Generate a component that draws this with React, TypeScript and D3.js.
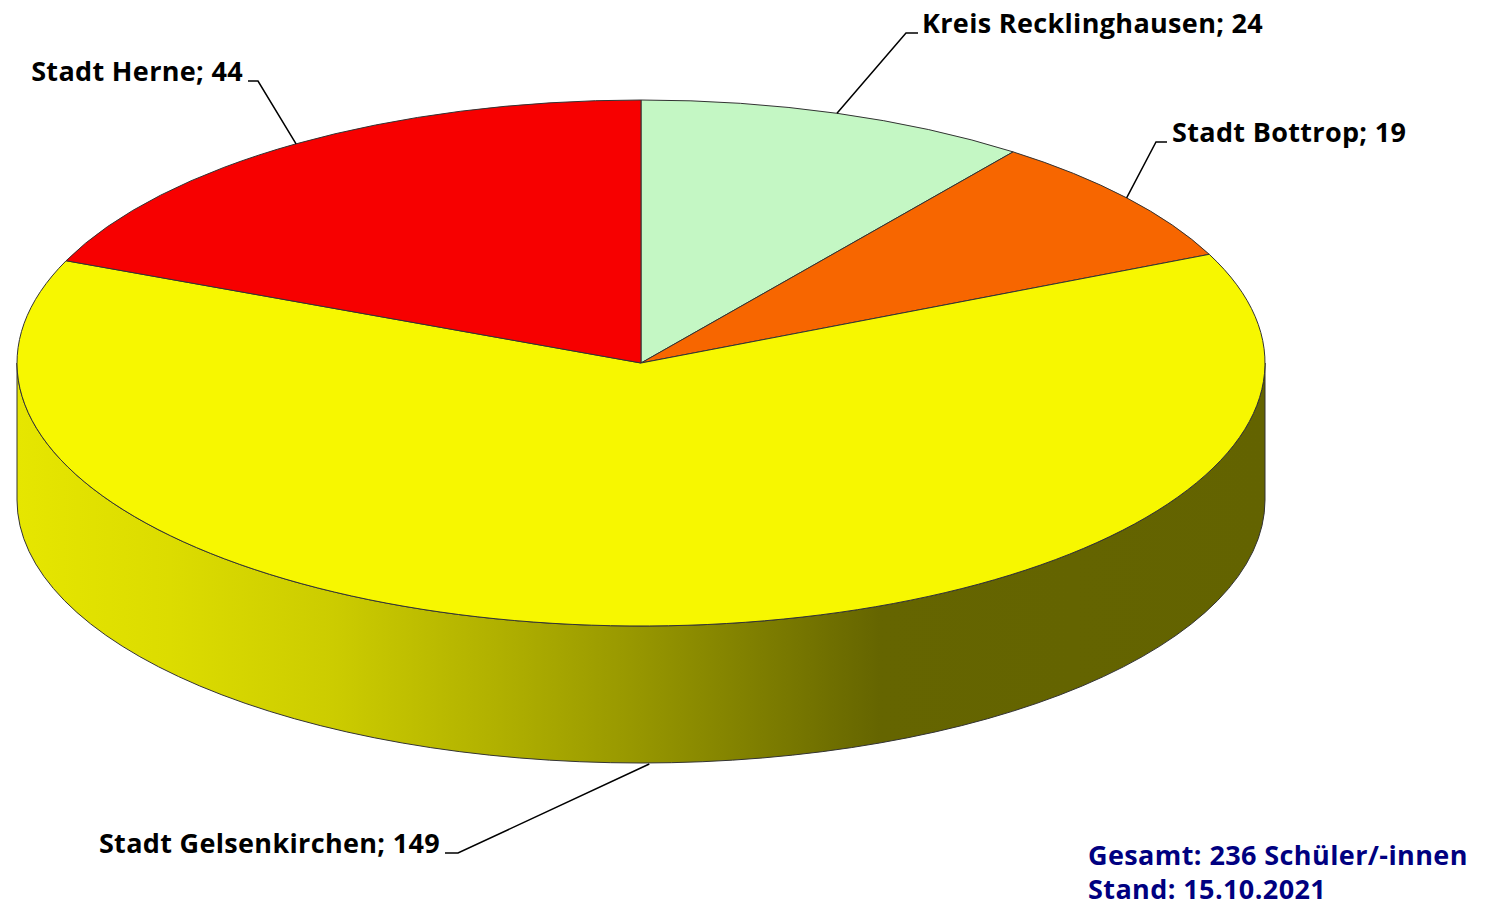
import React from "react";
import * as d3 from "d3";

const categories = ["Kreis Recklinghausen", "Stadt Bottrop", "Stadt Gelsenkirchen", "Stadt Herne"];
const values = [24, 19, 149, 44];
const colors = ["#c4f7c4", "#f76600", "#f7f700", "#f70000"];
const footerLines = ["Gesamt: 236 Schüler/-innen", "Stand: 15.10.2021"];

const W = 1485;
const H = 910;
const cx = 641;
const cy = 363;
const rx = 624;
const ry = 263;
const depth = 137;

// label layout: elbow point, end of horizontal tick, text anchor x, baseline y
const labelLayout = [
  { elbow: [906, 33], end: [918, 33], tx: 922, ty: 33, anchor: "start", bottom: false },
  { elbow: [1156, 142], end: [1167, 142], tx: 1172, ty: 142, anchor: "start", bottom: false },
  { elbow: [458, 853], end: [445, 853], tx: 440, ty: 853, anchor: "end", bottom: true },
  { elbow: [258, 81], end: [248, 81], tx: 243, ty: 81, anchor: "end", bottom: false },
];

const pt = (a: number, dy = 0): [number, number] => [cx + rx * Math.sin(a), cy - ry * Math.cos(a) + dy];

export default function App() {
  const pie = d3.pie<number>().sort(null).value((d) => d);
  const arcs = pie(values);
  const FONT = "'Open Sans', 'Noto Sans', sans-serif";

  const topPath = (a0: number, a1: number) => {
    const p0 = pt(a0);
    const p1 = pt(a1);
    const large = a1 - a0 > Math.PI ? 1 : 0;
    return `M${cx},${cy}L${p0[0]},${p0[1]}A${rx},${ry} 0 ${large} 1 ${p1[0]},${p1[1]}Z`;
  };

  const sidePath = (s: number, e: number) => {
    const a0 = Math.max(s, Math.PI / 2);
    const a1 = Math.min(e, (3 * Math.PI) / 2);
    if (a1 <= a0) return null;
    const p0 = pt(a0);
    const p1 = pt(a1);
    const q1 = pt(a1, depth);
    const q0 = pt(a0, depth);
    return `M${p0[0]},${p0[1]}A${rx},${ry} 0 0 1 ${p1[0]},${p1[1]}L${q1[0]},${q1[1]}A${rx},${ry} 0 0 0 ${q0[0]},${q0[1]}Z`;
  };

  const gradStops: [number, string][] = [
    [17, "#e6e600"],
    [170, "#dcdc00"],
    [333, "#cccc00"],
    [500, "#b0b000"],
    [625, "#999900"],
    [750, "#808000"],
    [880, "#656500"],
    [1265, "#636300"],
  ];

  return (
    <svg width={W} height={H} style={{ position: "absolute", left: 0, top: 0, background: "#fff" }}>
      <defs>
        <linearGradient id="sideGrad" gradientUnits="userSpaceOnUse" x1={17} y1={0} x2={1265} y2={0}>
          {gradStops.map(([x, c], i) => (
            <stop key={i} offset={(x - 17) / (1265 - 17)} stopColor={c} />
          ))}
        </linearGradient>
      </defs>
      {arcs.map((a, i) => {
        const d = sidePath(a.startAngle, a.endAngle);
        return d ? (
          <path key={"s" + i} d={d} fill={i === 2 ? "url(#sideGrad)" : colors[i]} stroke="#333" strokeWidth={1} />
        ) : null;
      })}
      {arcs.map((a, i) => (
        <path key={"t" + i} d={topPath(a.startAngle, a.endAngle)} fill={colors[i]} stroke="#333" strokeWidth={1} strokeLinejoin="round" />
      ))}
      {arcs.map((a, i) => {
        const L = labelLayout[i];
        const mid = (a.startAngle + a.endAngle) / 2;
        const p = pt(mid, L.bottom ? depth + 1 : 0);
        return (
          <g key={"l" + i}>
            <polyline
              points={`${p[0]},${p[1]} ${L.elbow[0]},${L.elbow[1]} ${L.end[0]},${L.end[1]}`}
              fill="none"
              stroke="#000"
              strokeWidth={1.5}
            />
            <text x={L.tx} y={L.ty} textAnchor={L.anchor} fontFamily={FONT} fontWeight="bold" fontSize={27} letterSpacing={0.33} fill="#000">
              {`${categories[i]}; ${values[i]}`}
            </text>
          </g>
        );
      })}
      {footerLines.map((t, i) => (
        <text key={"f" + i} x={1088} y={865 + i * 34} fontFamily={FONT} fontWeight="bold" fontSize={27} letterSpacing={0.4} fill="#000080">
          {t}
        </text>
      ))}
    </svg>
  );
}
